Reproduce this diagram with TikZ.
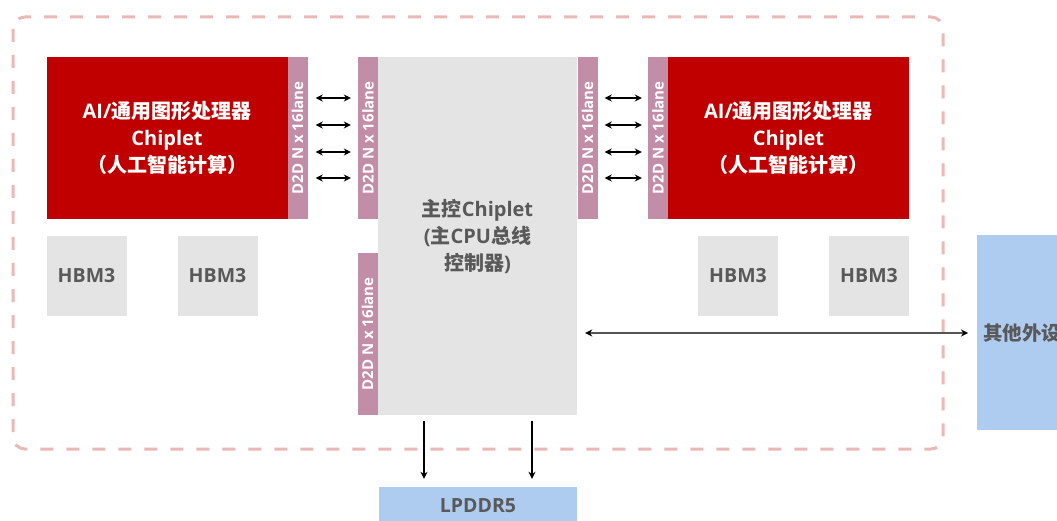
\documentclass[tikz,border=0pt]{standalone}
\usepackage{fontspec}
\setmainfont{Open Sans}
\newfontfamily\cjk{Noto Sans CJK SC}
\usepackage{tikz}
\usetikzlibrary{arrows.meta}
\definecolor{chipred}{HTML}{C00000}
\definecolor{d2dpink}{HTML}{C28DA7}
\definecolor{boxgrey}{HTML}{E4E4E4}
\definecolor{extblue}{HTML}{AECBF0}
\definecolor{borderpink}{HTML}{EBB8B8}
\definecolor{textgrey}{HTML}{595959}
\definecolor{linegrey}{HTML}{555555}

\begin{document}
\begin{tikzpicture}[x=1pt,y=-1pt,
        chip/.style={fill=chipred,text=white,font=\bfseries\fontsize{20}{27}\selectfont,align=center,inner sep=0pt,minimum width=241pt,minimum height=162pt},
        d2dstrip/.style={fill=d2dpink,text=white,font=\bfseries\fontsize{15}{16}\selectfont,rotate=90,inner sep=0pt,minimum width=162pt,minimum height=20pt},
        mainbox/.style={fill=boxgrey,text=textgrey,font=\bfseries\fontsize{20}{27}\selectfont,align=center,inner sep=0pt,minimum width=199pt,minimum height=358pt},
        hbm/.style={fill=boxgrey,text=textgrey,font=\bfseries\fontsize{19.5}{24}\selectfont,inner sep=0pt,minimum size=80pt},
        extbox/.style={fill=extblue,text=textgrey,font=\bfseries\fontsize{19.5}{24}\selectfont,inner xsep=6pt,inner ysep=0pt,text width=108pt,align=left,minimum height=195pt},
        dtip/.tip={Stealth[length=7pt,width=7pt,color=black]},
        biarrow/.style={dtip-dtip,line width=1.4pt},
        downarrow/.style={-dtip,line width=1.4pt}
    ]
        \clip (0,0) rectangle (1057,521);
        \fill[white] (0,0) rectangle (1057,521);
        \draw[borderpink,line width=3pt,dash pattern=on 13pt off 13pt,rounded corners=12pt] (13,17) rectangle (943,449);

        \node[chip] (lchip) at (167,138) {AI/{\cjk 通用图形处理器}\\Chiplet\\{\cjk （人工智能计算）}};
        \node[d2dstrip] (ld2d) at (297.5,138) {D2D N x 16lane};
        \node[mainbox] (main) at (477.5,236) {{\cjk 主控}Chiplet\\({\cjk 主}CPU{\cjk 总线}\\{\cjk 控制器})};
        \node[d2dstrip] (md2dl) at (368,138) {D2D N x 16lane};
        \node[d2dstrip] (md2dr) at (587.5,138) {D2D N x 16lane};
        \node[d2dstrip] (md2db) at (367.5,334) {D2D N x 16lane};
        \node[d2dstrip] (rd2d) at (658,138) {D2D N x 16lane};
        \node[chip] (rchip) at (788.5,138) {AI/{\cjk 通用图形处理器}\\Chiplet\\{\cjk （人工智能计算）}};

        \node[hbm] (hbma) at (86.5,276) {HBM3};
        \node[hbm] (hbmb) at (217.5,276) {HBM3};
        \node[hbm] (hbmc) at (738,276) {HBM3};
        \node[hbm] (hbmd) at (869,276) {HBM3};

        \node[extbox,anchor=north west] (ext) at (977,235) {\cjk 其他外设};
        \node[fill=extblue,text=textgrey,font=\bfseries\fontsize{19.5}{24}\selectfont,inner sep=0pt,minimum width=198pt,minimum height=38pt] (lpddr) at (478,506) {LPDDR5};

        \foreach \y in {98,125,152,178} {
            \draw[biarrow,shorten <=8pt,shorten >=7pt] (ld2d.south |- 0,\y) -- (md2dl.north |- 0,\y);
            \draw[biarrow,shorten <=7pt,shorten >=6pt] (md2dr.south |- 0,\y) -- (rd2d.north |- 0,\y);
        }
        \draw[biarrow,linegrey,shorten <=8pt,shorten >=9pt] (main.east |- 0,333) -- (ext.west |- 0,333);
        \foreach \x in {424,532}
            \draw[downarrow,shorten <=6pt,shorten >=8pt] (\x,0 |- main.south) -- (\x,0 |- lpddr.north);
\end{tikzpicture}
\end{document}
